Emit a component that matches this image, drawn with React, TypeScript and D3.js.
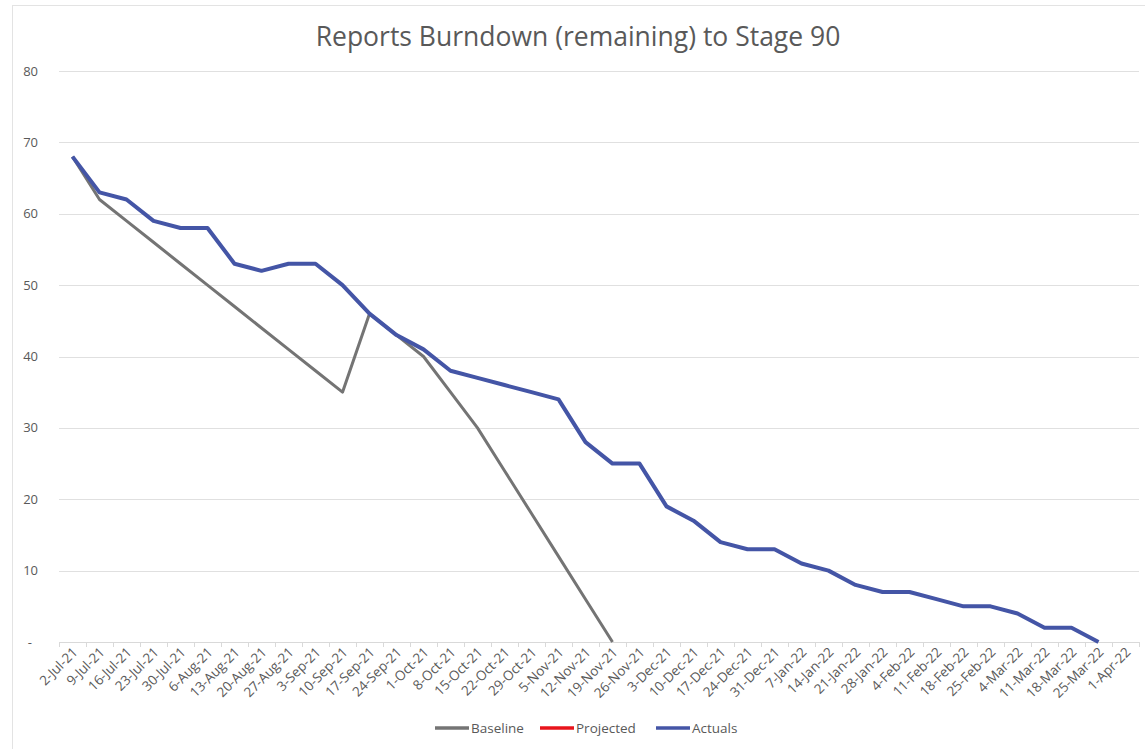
import React, { useEffect, useRef } from 'react';
import * as d3 from 'd3';

const weeks: string[] = [
  '2-Jul-21', '9-Jul-21', '16-Jul-21', '23-Jul-21', '30-Jul-21',
  '6-Aug-21', '13-Aug-21', '20-Aug-21', '27-Aug-21',
  '3-Sep-21', '10-Sep-21', '17-Sep-21', '24-Sep-21',
  '1-Oct-21', '8-Oct-21', '15-Oct-21', '22-Oct-21', '29-Oct-21',
  '5-Nov-21', '12-Nov-21', '19-Nov-21', '26-Nov-21',
  '3-Dec-21', '10-Dec-21', '17-Dec-21', '24-Dec-21', '31-Dec-21',
  '7-Jan-22', '14-Jan-22', '21-Jan-22', '28-Jan-22',
  '4-Feb-22', '11-Feb-22', '18-Feb-22', '25-Feb-22',
  '4-Mar-22', '11-Mar-22', '18-Mar-22', '25-Mar-22',
  '1-Apr-22',
];

const baseline: (number | null)[] = [
  68, 62, 59, 56, 53, 50, 47, 44, 41, 38, 35, 46, 43, 40, 35, 30, 24, 18, 12, 6, 0,
];

const projected: (number | null)[] = [];

const actuals: (number | null)[] = [
  68, 63, 62, 59, 58, 58, 53, 52, 53, 53, 50, 46, 43, 41, 38, 37, 36, 35, 34, 28,
  25, 25, 19, 17, 14, 13, 13, 11, 10, 8, 7, 7, 6, 5, 5, 4, 2, 2, 0,
];

const yTicks: number[] = [0, 10, 20, 30, 40, 50, 60, 70, 80];

const seriesNames = ['Baseline', 'Projected', 'Actuals'];
const seriesColors = ['#747474', '#e8141b', '#4455a6'];

const W = 1145;
const H = 749;
const FONT = "'Open Sans', Calibri, sans-serif";

const App: React.FC = () => {
  const svgRef = useRef<SVGSVGElement>(null);

  useEffect(() => {
    if (!svgRef.current) return;
    const svg = d3.select(svgRef.current);
    svg.selectAll('*').remove();

    const left = 59, right = 1139, top = 71, bottom = 642;

    // chart frame
    svg.append('rect')
      .attr('x', 12.5).attr('y', 5.5)
      .attr('width', W + 20).attr('height', H + 20)
      .attr('fill', '#fff')
      .attr('stroke', '#e3e3e3');

    svg.append('text')
      .attr('x', 578).attr('y', 46)
      .attr('text-anchor', 'middle')
      .attr('font-family', FONT)
      .attr('font-size', 26.5)
      .attr('font-weight', 500)
      .attr('fill', '#595959')
      .text('Reports Burndown (remaining) to Stage 90');

    const x = d3.scaleBand<string>().domain(weeks).range([left, right]).padding(0);
    const y = d3.scaleLinear().domain([0, 80]).range([bottom, top]);
    const cx = (i: number) => (x(weeks[i]) as number) + x.bandwidth() / 2;

    // gridlines
    svg.append('g')
      .selectAll('line')
      .data(yTicks.filter(t => t > 0))
      .enter().append('line')
      .attr('x1', left).attr('x2', right)
      .attr('y1', d => Math.round(y(d)) + 0.5).attr('y2', d => Math.round(y(d)) + 0.5)
      .attr('stroke', '#e0e0e0');

    // y labels
    svg.append('g')
      .selectAll('text')
      .data(yTicks)
      .enter().append('text')
      .attr('x', d => (d === 0 ? 32 : 38))
      .attr('y', d => y(d) + 4.5)
      .attr('text-anchor', 'end')
      .attr('font-family', FONT)
      .attr('font-size', 13)
      .attr('fill', '#595959')
      .text(d => (d === 0 ? '-' : String(d)));

    // x axis line + tick marks at category boundaries
    svg.append('line')
      .attr('x1', left).attr('x2', right)
      .attr('y1', bottom + 0.5).attr('y2', bottom + 0.5)
      .attr('stroke', '#d9d9d9');

    const bounds = weeks.map(w => x(w) as number).concat([right]);
    svg.append('g')
      .selectAll('line')
      .data(bounds)
      .enter().append('line')
      .attr('x1', d => Math.round(d) + 0.5).attr('x2', d => Math.round(d) + 0.5)
      .attr('y1', bottom).attr('y2', bottom + 5)
      .attr('stroke', '#d9d9d9');

    // x labels
    svg.append('g')
      .selectAll('text')
      .data(weeks)
      .enter().append('text')
      .attr('transform', (d, i) => `translate(${cx(i) + 6},${bottom + 11}) rotate(-45)`)
      .attr('text-anchor', 'end')
      .attr('font-family', FONT)
      .attr('font-size', 13.5)
      .attr('fill', '#595959')
      .text(d => d);

    const line = d3.line<number | null>()
      .defined(d => d !== null)
      .x((d, i) => cx(i))
      .y(d => y(d as number));

    const allSeries = [baseline, projected, actuals];
    const widths = [3, 3.5, 4];
    allSeries.forEach((s, k) => {
      if (s.length === 0) return;
      svg.append('path')
        .datum(s)
        .attr('fill', 'none')
        .attr('stroke', seriesColors[k])
        .attr('stroke-width', widths[k])
        .attr('stroke-linejoin', 'round')
        .attr('d', line);
    });

    // legend
    const legendX = [435, 540, 656];
    const lg = svg.append('g');
    seriesNames.forEach((name, k) => {
      lg.append('line')
        .attr('x1', legendX[k]).attr('x2', legendX[k] + 34)
        .attr('y1', 728).attr('y2', 728)
        .attr('stroke', seriesColors[k])
        .attr('stroke-width', 3.5);
      lg.append('text')
        .attr('x', legendX[k] + 36).attr('y', 733)
        .attr('font-family', FONT)
        .attr('font-size', 13.5)
        .attr('fill', '#595959')
        .text(name);
    });
  }, []);

  return (
    <div style={{ position: 'absolute', left: 0, top: 0, width: W, height: H, background: '#fff' }}>
      <svg ref={svgRef} width={W} height={H} />
    </div>
  );
};

export default App;
